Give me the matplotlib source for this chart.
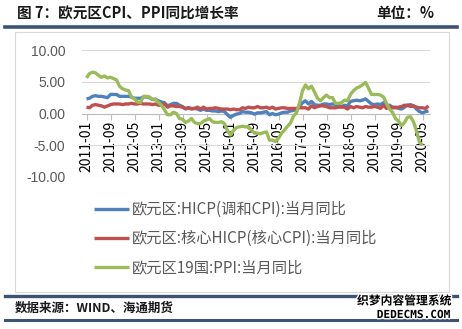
import pandas as pd
import matplotlib.pyplot as plt
import matplotlib.patheffects as pe
from matplotlib.lines import Line2D
from matplotlib.patches import Rectangle

plt.rcParams['font.family'] = ['Noto Sans CJK SC', 'DejaVu Sans']

# monthly categories 2011-01 .. 2020-07
months = pd.period_range('2011-01', '2020-07', freq='M').strftime('%Y-%m').tolist()

hicp = [2.3, 2.4, 2.7, 2.8, 2.7, 2.7, 2.6, 2.5, 3.0, 3.0, 3.0, 2.7,
        2.7, 2.7, 2.7, 2.6, 2.4, 2.4, 2.4, 2.6, 2.6, 2.5, 2.2, 2.2,
        2.0, 1.8, 1.7, 1.2, 1.4, 1.6, 1.6, 1.3, 1.1, 0.7, 0.9, 0.8,
        0.8, 0.7, 0.5, 0.7, 0.5, 0.5, 0.4, 0.4, 0.3, 0.4, 0.3, -0.2,
        -0.6, -0.3, -0.1, 0.0, 0.3, 0.2, 0.2, 0.1, -0.1, 0.1, 0.1, 0.2,
        0.3, -0.2, 0.0, -0.2, -0.1, 0.1, 0.2, 0.2, 0.4, 0.5, 0.6, 1.1,
        1.7, 2.0, 1.5, 1.9, 1.4, 1.3, 1.3, 1.5, 1.5, 1.4, 1.5, 1.4,
        1.3, 1.1, 1.3, 1.2, 1.9, 2.0, 2.1, 2.0, 2.1, 2.3, 1.9, 1.5,
        1.4, 1.5, 1.4, 1.7, 1.2, 1.3, 1.0, 1.0, 0.8, 0.7, 1.0, 1.3,
        1.4, 1.2, 0.7, 0.3, 0.1, 0.3, 0.4]

core = [1.0, 0.9, 1.3, 1.4, 1.3, 1.2, 1.0, 1.2, 1.4, 1.5, 1.5, 1.5,
        1.4, 1.5, 1.5, 1.6, 1.5, 1.5, 1.6, 1.5, 1.5, 1.5, 1.4, 1.5,
        1.3, 1.3, 1.5, 1.0, 1.2, 1.2, 1.1, 1.1, 1.0, 0.8, 0.9, 0.7,
        0.8, 1.0, 0.7, 1.0, 0.7, 0.8, 0.8, 0.9, 0.8, 0.7, 0.7, 0.7,
        0.6, 0.7, 0.6, 0.6, 0.9, 0.8, 1.0, 0.9, 0.9, 1.1, 0.9, 0.9,
        1.0, 0.8, 1.0, 0.7, 0.8, 0.9, 0.9, 0.8, 0.8, 0.8, 0.8, 0.9,
        0.9, 0.9, 0.7, 1.2, 0.9, 1.1, 1.2, 1.2, 1.1, 0.9, 0.9, 0.9,
        1.0, 1.0, 1.0, 0.7, 1.1, 0.9, 1.1, 1.0, 0.9, 1.1, 1.0, 1.0,
        1.1, 1.0, 0.8, 1.3, 0.8, 1.1, 0.9, 0.9, 1.0, 1.1, 1.3, 1.3,
        1.1, 1.2, 1.0, 0.9, 0.9, 0.8, 1.2]

ppi = [5.6, 6.3, 6.5, 6.4, 6.0, 5.7, 5.9, 5.6, 5.7, 5.5, 5.3, 4.3,
       3.9, 3.7, 3.6, 2.6, 2.3, 1.8, 1.7, 2.7, 2.7, 2.6, 2.2, 2.3,
       1.7, 1.3, 0.6, -0.2, -0.2, 0.2, 0.0, -0.8, -0.9, -1.4, -1.2, -0.8,
       -1.4, -1.6, -1.6, -1.2, -1.0, -0.8, -1.3, -1.4, -1.4, -1.3, -1.6, -2.7,
       -3.4, -2.7, -2.2, -2.1, -2.0, -2.1, -2.1, -2.6, -3.1, -3.1, -3.2, -3.0,
       -2.9, -4.2, -4.2, -4.4, -3.9, -3.1, -2.6, -2.0, -1.5, -0.4, 0.1, 1.6,
       3.6, 4.5, 3.9, 4.3, 3.4, 2.4, 2.0, 2.5, 2.9, 2.5, 2.5, 1.6,
       1.6, 1.7, 2.1, 2.0, 3.0, 3.6, 4.0, 4.2, 4.5, 4.9, 4.0, 3.0,
       3.0, 3.0, 2.9, 2.6, 1.6, 0.7, 0.2, -0.8, -1.2, -1.9, -1.4, -0.6,
       -0.5, -1.3, -2.8, -4.5, -5.0]

labels = ['欧元区:HICP(调和CPI):当月同比',
          '欧元区:核心HICP(核心CPI):当月同比',
          '欧元区19国:PPI:当月同比']
colors = ['#4f81bd', '#c0504d', '#9bbb59']
yticks = [-10, -5, 0, 5, 10]

W, H = 462, 329
fx = lambda x: x / W
fy = lambda y: 1 - y / H

fig = plt.figure(figsize=(W / 100, H / 100), dpi=100)
fig.patch.set_facecolor('white')

# chart box and header/footer rules
fig.add_artist(Rectangle((fx(15), fy(292)), fx(449) - fx(15), fy(32) - fy(292),
                         transform=fig.transFigure, facecolor='white',
                         edgecolor='#d9d9d9', lw=0.8, zorder=-5))
for y, lw in [(27, 2.6), (296, 2.4), (320, 2.2)]:
    fig.add_artist(Line2D([fx(5), fx(457)], [fy(y), fy(y)], transform=fig.transFigure,
                          color='#3b5475', lw=lw))

ax = fig.add_axes([fx(82), fy(177), fx(430) - fx(82), fy(50) - fy(177)])
ax.set_facecolor('none')

for series, lab, c in zip([hicp, core, ppi], labels, colors):
    ax.plot(range(len(series)), series, color=c, lw=2.4, label=lab, zorder=3,
            solid_capstyle='butt')

ax.set_xlim(-1.5, 114.5)
ax.set_ylim(-10, 10)
ax.set_yticks(yticks)
ax.set_yticklabels([f'{v:.2f}' for v in yticks],
                   fontfamily='Liberation Sans', fontsize=10, color='#595959')
ax.set_xticks(range(0, len(months), 8))
ax.set_xticklabels(months[::8], fontfamily='Liberation Sans', fontsize=11.2,
                   color='#595959')
ax.tick_params(axis='y', length=0, pad=12)
ax.tick_params(axis='x', length=4, color='#bfbfbf', width=0.8, pad=1,
               labelrotation=90)
ax.yaxis.grid(True, color='#d9d9d9', lw=0.8)
ax.set_axisbelow(True)
for s in ['top', 'right', 'left']:
    ax.spines[s].set_visible(False)
ax.spines['bottom'].set_position(('data', 0))
ax.spines['bottom'].set_color('#bfbfbf')
ax.spines['bottom'].set_linewidth(0.8)

fig.legend(loc='upper left', bbox_to_anchor=(fx(94), fy(201)), frameon=False,
           fontsize=11, labelcolor='#595959', handlelength=2.3,
           handletextpad=0.15, labelspacing=0.8, borderpad=0, borderaxespad=0)

fig.text(fx(17), fy(13), '图 7：欧元区CPI、PPI同比增长率', ha='left', va='center',
         fontsize=10.5, fontweight='bold', color='#1a1a1a')
fig.text(fx(434), fy(13), '单位：%', ha='right', va='center',
         fontsize=10.5, fontweight='bold', color='#1a1a1a')
fig.text(fx(15), fy(308), '数据来源：WIND、海通期货', ha='left', va='center',
         fontsize=9, fontweight='bold', color='#1a1a1a')

# watermark
halo = [pe.withStroke(linewidth=2, foreground='white')]
fig.text(fx(451), fy(301), '织梦内容管理系统', ha='right', va='center',
         fontsize=8.5, fontweight='bold', color='black', path_effects=halo)
fig.text(fx(451), fy(315), 'DEDECMS.COM', ha='right', va='center',
         fontsize=8, fontweight='bold', color='black', family='DejaVu Sans Mono',
         path_effects=halo)

fig.savefig('out.png', dpi=100)
